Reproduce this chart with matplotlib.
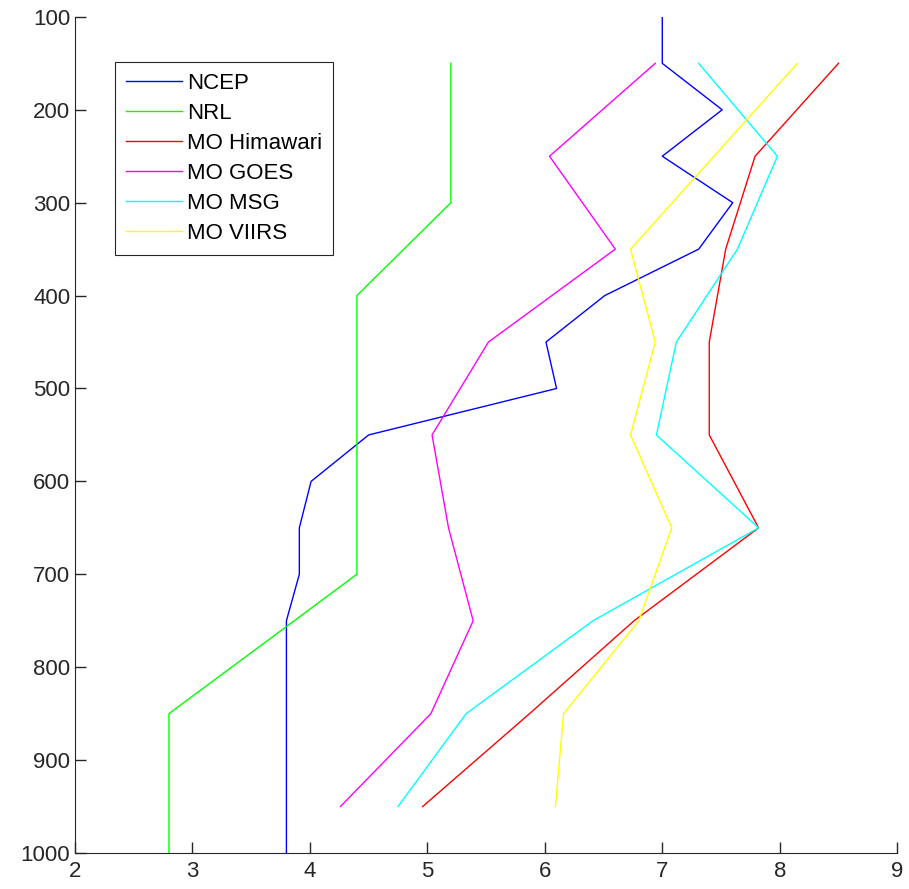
import matplotlib
matplotlib.use("Agg")
import matplotlib.pyplot as plt

# pressure levels (hPa)
p_ncep = [100, 150, 200, 250, 300, 350, 400, 450, 500, 550, 600, 650, 700, 750, 1000]
ncep = [7.0, 7.0, 7.51, 7.0, 7.6, 7.31, 6.51, 6.01, 6.1, 4.5, 4.01, 3.91, 3.91, 3.8, 3.8]

p_nrl = [150, 300, 400, 700, 850, 1000]
nrl = [5.2, 5.2, 4.4, 4.4, 2.8, 2.8]

p_mo = [150, 250, 350, 450, 550, 650, 750, 850, 950]
mo_himawari = [8.5, 7.79, 7.54, 7.4, 7.4, 7.82, 6.76, 5.87, 4.96]
mo_goes = [6.94, 6.04, 6.6, 5.52, 5.04, 5.18, 5.39, 5.03, 4.26]
mo_msg = [7.31, 7.98, 7.64, 7.12, 6.95, 7.82, 6.41, 5.33, 4.75]

p_viirs = [150, 350, 450, 550, 650, 750, 850, 950]
mo_viirs = [8.15, 6.73, 6.94, 6.73, 7.08, 6.8, 6.16, 6.09]

x_ticks = [2, 3, 4, 5, 6, 7, 8, 9]
y_ticks = [100, 200, 300, 400, 500, 600, 700, 800, 900, 1000]

plt.rcParams['font.family'] = ['Liberation Sans', 'DejaVu Sans']
fs = 16

fig = plt.figure(figsize=(9.09, 8.89), dpi=100)
ax = fig.add_axes([0.0825, 0.0405, 0.9045, 0.9405])

ax.plot(ncep, p_ncep, color='#0000ff', lw=1.0, label='NCEP')
ax.plot(nrl, p_nrl, color='#00ff00', lw=1.0, label='NRL')
ax.plot(mo_himawari, p_mo, color='#ff0000', lw=1.0, label='MO Himawari')
ax.plot(mo_goes, p_mo, color='#ff00ff', lw=1.0, label='MO GOES')
ax.plot(mo_msg, p_mo, color='#00ffff', lw=1.0, label='MO MSG')
ax.plot(mo_viirs, p_viirs, color='#ffff00', lw=1.0, label='MO VIIRS')

ax.set_xlim(2, 9)
ax.set_ylim(1000, 100)
ax.set_xticks(x_ticks)
ax.set_yticks(y_ticks)
ax.tick_params(direction='in', length=8, width=1, colors='#262626', labelsize=fs)
ax.tick_params(axis='x', pad=6)
for s in ['top', 'right']:
    ax.spines[s].set_visible(False)
for s in ['left', 'bottom']:
    ax.spines[s].set_color('#262626')

leg = ax.legend(loc='upper left', bbox_to_anchor=(0.0487, 0.946), fontsize=fs,
                fancybox=False, edgecolor='#262626', framealpha=1, borderaxespad=0,
                handlelength=2.5, handletextpad=0.25, borderpad=0.5, labelspacing=0.4)
leg.get_frame().set_linewidth(0.8)

fig.savefig("out.png", dpi=100)
